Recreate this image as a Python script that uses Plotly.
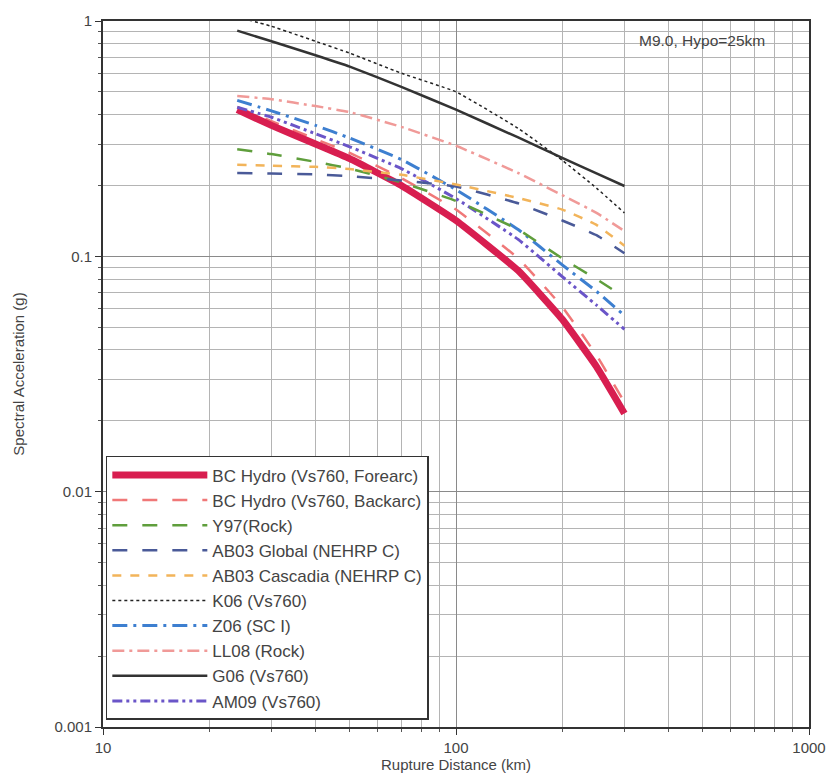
import plotly.graph_objects as go

# Rupture distance (km)
dist = [24, 30, 40, 50, 70, 100, 150, 200, 250, 300]

bc_fore = [0.42, 0.36, 0.30, 0.26, 0.20, 0.142, 0.087, 0.054, 0.034, 0.0215]
bc_back = [0.43, 0.375, 0.315, 0.275, 0.215, 0.158, 0.098, 0.061, 0.038, 0.024]
y97 = [0.285, 0.272, 0.252, 0.236, 0.206, 0.172, 0.130, 0.098, 0.080, 0.067]
ab03_glob = [0.226, 0.225, 0.223, 0.219, 0.210, 0.198, 0.168, 0.142, 0.123, 0.103]
ab03_casc = [0.245, 0.243, 0.240, 0.235, 0.222, 0.202, 0.177, 0.158, 0.136, 0.111]
k06 = [1.04, 0.95, 0.82, 0.73, 0.60, 0.50, 0.35, 0.256, 0.195, 0.153]
z06 = [0.46, 0.415, 0.36, 0.318, 0.258, 0.192, 0.130, 0.092, 0.071, 0.056]
ll08 = [0.48, 0.465, 0.435, 0.41, 0.355, 0.295, 0.226, 0.182, 0.153, 0.128]
g06 = [0.91, 0.82, 0.715, 0.64, 0.525, 0.42, 0.32, 0.262, 0.225, 0.199]
am09 = [0.43, 0.39, 0.332, 0.292, 0.236, 0.176, 0.118, 0.082, 0.062, 0.049]

names = ["BC Hydro (Vs760, Forearc)", "BC Hydro (Vs760, Backarc)", "Y97(Rock)",
         "AB03 Global (NEHRP C)", "AB03 Cascadia (NEHRP C)", "K06 (Vs760)",
         "Z06 (SC I)", "LL08 (Rock)", "G06 (Vs760)", "AM09 (Vs760)"]
series = [bc_fore, bc_back, y97, ab03_glob, ab03_casc, k06, z06, ll08, g06, am09]
colors = ["#d81e50", "#f07878", "#5f9e3c", "#4a5a98", "#f2b45a", "#222222",
          "#3d7fd0", "#f09a98", "#333333", "#6a55c8"]
widths = [7, 2.5, 2.5, 2.5, 2.5, 1.5, 3, 2.5, 2.5, 3]
dashes = ["solid", "longdash", "longdash", "longdash", "dash", "dot",
          "longdashdot", "12px,5px,3px,5px", "solid", "10px,4px,3px,4px,3px,4px"]
order = [1, 0, 9, 6, 2, 3, 4, 7, 5, 8]  # drawing order (back to front)

minor_x = [v * m for m in (10, 100) for v in range(2, 10)]
minor_y = [v * m for m in (0.001, 0.01, 0.1) for v in range(2, 10)]

fig = go.Figure()
for j in order:
    fig.add_trace(go.Scatter(
        x=dist, y=series[j], mode="lines", name=names[j],
        line=dict(color=colors[j], width=widths[j], dash=dashes[j],
                  shape="spline", smoothing=0.35),
        legendgroup="g%d" % j, legendrank=j + 1,
    ))

fig.add_annotation(x=0.941, y=0.972, xref="paper", yref="paper", xanchor="right", yanchor="middle",
                   text="M9.0, Hypo=25km", showarrow=False,
                   font=dict(size=15.5, color="#444"))

axis_common = dict(
    type="log", showline=True, linecolor="#333", linewidth=2, mirror=True,
    showgrid=True, gridcolor="#8a8a8a", gridwidth=1.2, ticks="outside", ticklen=6,
    tickcolor="#333", zeroline=False,
    tickfont=dict(size=15, color="#444"),
)
fig.update_xaxes(**axis_common, range=[1, 3], tickvals=[10, 100, 1000],
                 ticktext=["10", "100", "1000"],
                 minor=dict(tickmode="array", tickvals=minor_x, ticks="outside", ticklen=3,
                            tickcolor="#555", showgrid=True, gridcolor="#b4b4b4", gridwidth=1),
                 title=dict(text="Rupture Distance (km)", font=dict(size=15, color="#444"), standoff=3))
fig.update_yaxes(**axis_common, range=[-3, 0], tickvals=[0.001, 0.01, 0.1, 1],
                 ticktext=["0.001", "0.01", "0.1", "1"],
                 minor=dict(tickmode="array", tickvals=minor_y, ticks="outside", ticklen=3,
                            tickcolor="#555", showgrid=True, gridcolor="#b4b4b4", gridwidth=1),
                 title=dict(text="Spectral Acceleration (g)", font=dict(size=15, color="#444"), standoff=26))

fig.update_layout(
    width=838, height=782,
    margin=dict(l=103, r=26, t=17, b=55),
    paper_bgcolor="white", plot_bgcolor="white",
    font=dict(family="Liberation Sans, Arial, sans-serif", color="#444"),
    showlegend=True,
    legend=dict(x=0.004, y=0.01, xanchor="left", yanchor="bottom",
                bgcolor="white", bordercolor="#333", borderwidth=1.5,
                font=dict(size=17, color="#444"), itemwidth=95,
                tracegroupgap=5, traceorder="normal"),
)

fig.write_html("out.html")
